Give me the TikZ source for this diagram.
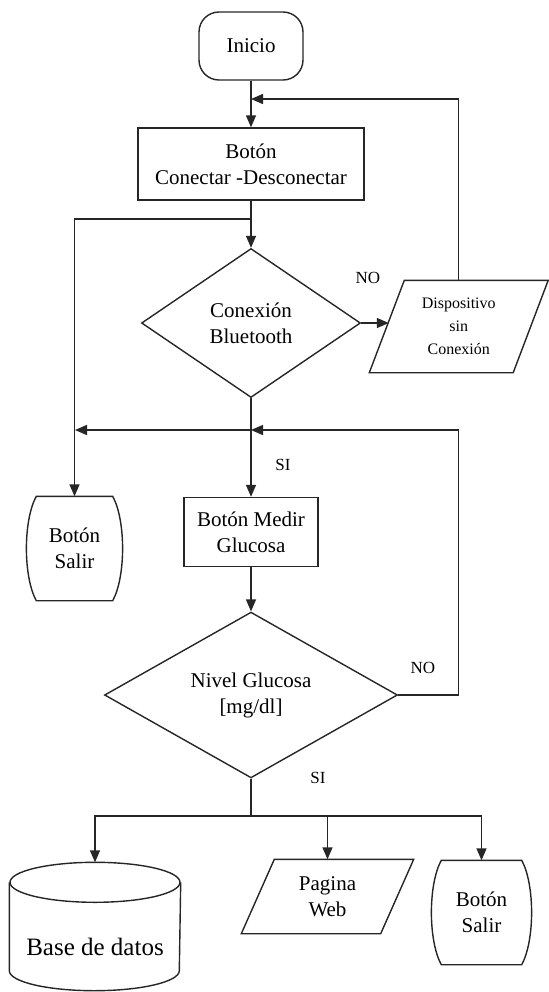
\documentclass[tikz,border=0pt]{standalone}
\usepackage{fontspec}
\setmainfont{Liberation Serif}
\usetikzlibrary{arrows.meta, shapes.geometric, calc}

\begin{document}
\begin{tikzpicture}[
    >={Triangle[length=6pt, width=5pt]},
    x=0.5pt, y=-0.5pt,
    line width=0.7pt,
    font=\fontsize{10.5}{13}\selectfont,
    every node/.style={draw=black!85, align=center, inner sep=2pt},
    terminal/.style={rectangle, rounded corners=10pt},
    process/.style={rectangle},
    decision/.style={diamond, inner sep=0pt},
    flow/.style={draw=black!85, ->},
    tag/.style={draw=none, font=\fontsize{8.5}{10}\selectfont}
]
    % ================= Canvas =================
    \path[use as bounding box] (0,0) rectangle (548,992);

    % ================= Main column =================
    \node[terminal, minimum width=52pt, minimum height=34pt] (inicio) at (251,46) {Inicio};
    \node[process, minimum width=113pt, minimum height=36pt] (conectar) at (251,164) {Botón\\Conectar -Desconectar};
    \node[decision, minimum width=109.5pt, minimum height=74.5pt] (bt) at (251,323) {Conexión\\Bluetooth};
    \node[process, minimum width=67pt, minimum height=34.5pt] (medir) at (251,532) {Botón Medir\\Glucosa};
    \node[decision, minimum width=146.5pt, minimum height=75pt] (nivel) at (251,695) {Nivel Glucosa\\{[mg/dl]}};

    % ================= Side blocks =================
    % parallelograms and barrels are drawn round these below
    \node[draw=none, minimum width=71.25pt, minimum height=45.5pt,
          font=\fontsize{8}{11.5}\selectfont] (nocon) at (458.75,326.5) {Dispositivo\\sin\\Conexión};
    \node[draw=none, minimum width=47.5pt, minimum height=51.5pt] (salir1) at (74.5,548.5) {Botón\\Salir};

    % ================= Outputs =================
    \node[draw=none, minimum width=85pt, minimum height=43.5pt, font=\fontsize{12.5}{15}\selectfont] (db) at (95,946.5) {Base de datos};
    \node[draw=none, minimum width=69pt, minimum height=36.5pt] (web) at (327.5,896.5) {Pagina\\Web};
    \node[draw=none, minimum width=49.5pt, minimum height=51.5pt] (salir2) at (481.5,912.5) {Botón\\Salir};

    % parallelograms (half slant offset in pt)
    \foreach \n/\s in {nocon/8.75pt, web/8.25pt}
        \draw[black!85] ([xshift=\s]\n.north west) -- ([xshift=\s]\n.north east)
            -- ([xshift=-\s]\n.south east) -- ([xshift=-\s]\n.south west) -- cycle;

    % barrel shaped exit buttons
    \foreach \b in {salir1, salir2}
        \draw[black!85] ([xshift=5pt]\b.north west) -- ([xshift=-5pt]\b.north east)
            .. controls ([xshift=1.6pt, yshift=-12pt]\b.north east) and ([xshift=1.6pt, yshift=12pt]\b.south east)
            .. ([xshift=-5pt]\b.south east) -- ([xshift=5pt]\b.south west)
            .. controls ([xshift=-1.6pt, yshift=12pt]\b.south west) and ([xshift=-1.6pt, yshift=-12pt]\b.north west)
            .. cycle;

    % database cylinder around the db label
    \draw[black!85] ([yshift=10pt]db.north) ellipse [x radius=42.5pt, y radius=10pt];
    \draw[black!85] ([yshift=10pt]db.north west) -- ([yshift=10pt]db.south west)
        arc[start angle=180, end angle=360, x radius=42.5pt, y radius=10pt] -- ([yshift=10pt]db.north east);
    \coordinate (dbtop) at ([yshift=20pt]db.north);

    % ================= Junctions =================
    \coordinate (j1) at (251,99);
    \coordinate (j2) at (251,219);
    \coordinate (j3) at (251,430);
    \coordinate (j4) at (75,430);
    \coordinate (j5) at (251,816);

    % ================= Connectors =================
    \draw[flow] (inicio) -- (conectar);
    \draw[flow] (conectar) -- (bt);
    \draw[flow] (j2) -| (salir1.north);
    \draw[flow] (bt.east) -- ([xshift=1pt]bt.east -| nocon.west);
    \draw[flow] (nocon.north) |- (j1);
    \draw[flow] (bt) -- (medir);
    \draw[flow] (medir) -- (nivel);
    \draw[flow] (nivel.east) -- ++(60,0) |- (j3);
    \draw[flow] (j3) -- (j4);
    \draw[black!85] (nivel.south) -- (j5);
    \draw[flow] (j5) -| (dbtop);
    \draw[flow] (j5) -| (web.north);
    \draw[flow] (j5) -| (salir2.north);

    % ================= Branch labels =================
    \node[tag] (no1) at (368,278) {NO};
    \node[tag] (si1) at (283,465) {SI};
    \node[tag] (no2) at (423,668) {NO};
    \node[tag] (si2) at (318,778) {SI};
\end{tikzpicture}
\end{document}
